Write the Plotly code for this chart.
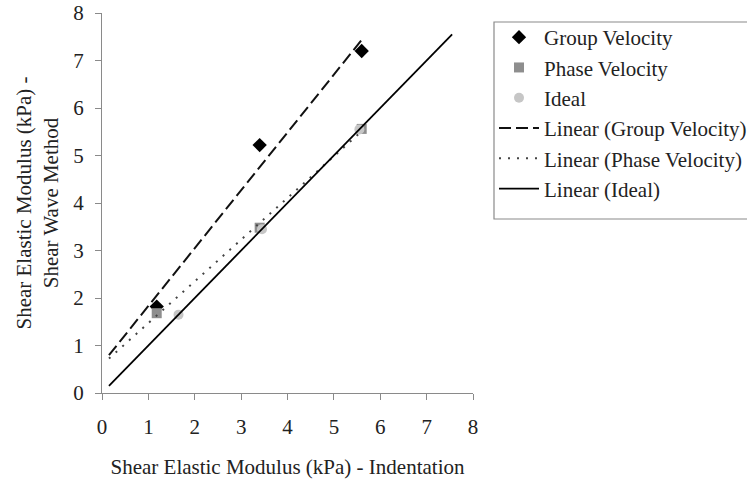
import numpy as np
import plotly.graph_objects as go

# Shear elastic modulus (kPa): indentation (x) vs shear wave method (y)
indent_group = [1.18, 3.40, 5.60]
group_velocity = [1.82, 5.22, 7.20]

indent_phase = [1.18, 3.40, 5.60]
phase_velocity = [1.68, 3.48, 5.56]

indent_ideal = [1.65, 3.45, 5.55]
ideal = [1.65, 3.45, 5.55]

# x extent of each linear trendline (with backward/forward forecast)
group_fit_span = [0.15, 5.60]
phase_fit_span = [0.15, 5.60]
ideal_fit_span = [0.15, 7.55]

axis_ticks = [0, 1, 2, 3, 4, 5, 6, 7, 8]

FONT = '"Liberation Serif", "Times New Roman", Tinos, "DejaVu Serif", serif'
TEXT = "#222222"
AXIS = "#8a8a8a"

# plot area in pixels (for placing the legend and its frame)
PLOT_L, PLOT_R, PLOT_T, PLOT_B = 102, 473, 13, 393
W, H = 747, 480


def px_to_paper_x(px):
    return (px - PLOT_L) / (PLOT_R - PLOT_L)


def px_to_paper_y(py):
    return (PLOT_B - py) / (PLOT_B - PLOT_T)


def linear_trend(x, y, span):
    slope, intercept = np.polyfit(np.asarray(x, float), np.asarray(y, float), 1)
    xs = np.asarray(span, float)
    return xs, slope * xs + intercept


fig = go.Figure()

fig.add_trace(go.Scatter(
    x=indent_group, y=group_velocity, mode="markers", name="Group Velocity",
    legendgroup="g1",
    marker=dict(symbol="diamond", size=11, color="#000000"),
))
fig.add_trace(go.Scatter(
    x=indent_phase, y=phase_velocity, mode="markers", name="Phase Velocity",
    legendgroup="g2",
    marker=dict(symbol="square", size=10, color="#8e8e8e"),
))
fig.add_trace(go.Scatter(
    x=indent_ideal, y=ideal, mode="markers", name="Ideal",
    legendgroup="g3",
    marker=dict(symbol="circle", size=10, color="#c6c6c6"),
))

gx, gy = linear_trend(indent_group, group_velocity, group_fit_span)
fig.add_trace(go.Scatter(
    x=gx, y=gy, mode="lines", name="Linear (Group Velocity)",
    legendgroup="g4",
    line=dict(color="#111111", width=2, dash="12px,5px"),
))
px_, py_ = linear_trend(indent_phase, phase_velocity, phase_fit_span)
fig.add_trace(go.Scatter(
    x=px_, y=py_, mode="lines", name="Linear (Phase Velocity)",
    legendgroup="g5",
    line=dict(color="#444444", width=2, dash="2px,7px"),
))
ix, iy = linear_trend(indent_ideal, ideal, ideal_fit_span)
fig.add_trace(go.Scatter(
    x=ix, y=iy, mode="lines", name="Linear (Ideal)",
    legendgroup="g6",
    line=dict(color="#000000", width=1.8),
))

axis_common = dict(
    range=[0, 8],
    tickvals=axis_ticks,
    ticktext=[str(t) for t in axis_ticks],
    showgrid=False,
    zeroline=False,
    showline=True,
    linecolor=AXIS,
    linewidth=1.2,
    ticks="outside",
    ticklen=6,
    tickcolor=AXIS,
    tickwidth=1.2,
    tickfont=dict(family=FONT, size=21, color=TEXT),
    fixedrange=True,
)

fig.update_xaxes(
    **axis_common,
    ticklabelstandoff=9,
    title=dict(text="Shear Elastic Modulus (kPa) - Indentation",
               font=dict(family=FONT, size=21, color=TEXT), standoff=21),
)
fig.update_yaxes(
    **axis_common,
    ticklabelstandoff=7,
    title=dict(text="Shear Elastic Modulus (kPa) -<br>Shear Wave Method",
               font=dict(family=FONT, size=21, color=TEXT), standoff=8),
)

# legend frame drawn as a shape so the box can run past the right edge
fig.add_shape(
    type="rect", xref="paper", yref="paper",
    x0=px_to_paper_x(494), x1=px_to_paper_x(W + 20),
    y0=px_to_paper_y(219), y1=px_to_paper_y(22),
    line=dict(color="#8a8a8a", width=1.2),
    fillcolor="white", layer="below",
)

fig.update_layout(
    width=W,
    height=H,
    margin=dict(l=PLOT_L, r=W - PLOT_R, t=PLOT_T, b=H - PLOT_B, autoexpand=False),
    paper_bgcolor="white",
    plot_bgcolor="rgba(0,0,0,0)",
    showlegend=True,
    font=dict(family=FONT),
    legend=dict(
        x=px_to_paper_x(494), y=px_to_paper_y(17),
        xanchor="left", yanchor="top",
        borderwidth=0,
        bgcolor="rgba(0,0,0,0)",
        font=dict(family=FONT, size=21, color=TEXT),
        itemwidth=40,
        tracegroupgap=4,
        traceorder="normal",
    ),
)

fig.write_html("out.html")
